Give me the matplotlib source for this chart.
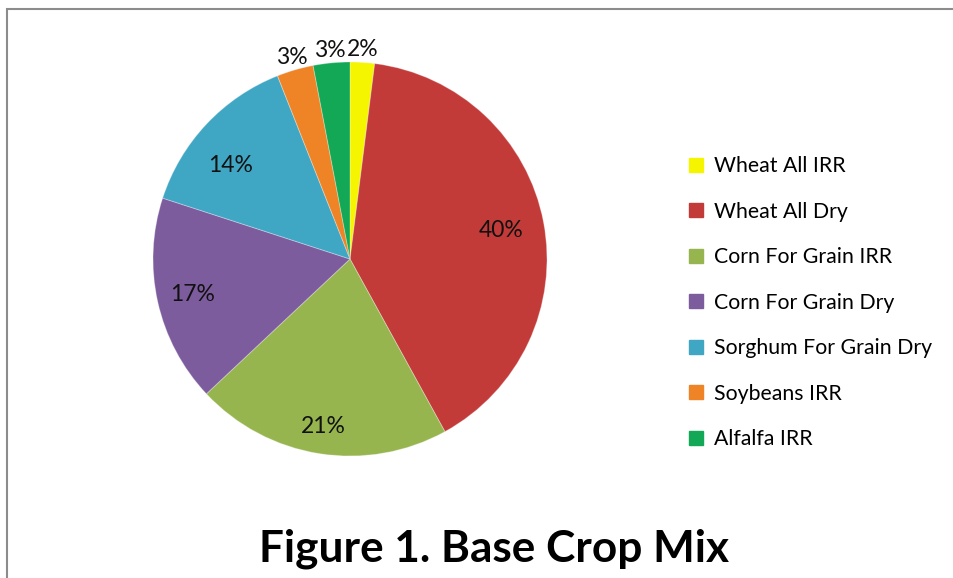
import matplotlib
matplotlib.use("Agg")
import matplotlib.pyplot as plt
import numpy as np
from matplotlib.patches import Rectangle

categories = ["Wheat All IRR", "Wheat All Dry", "Corn For Grain IRR", "Corn For Grain Dry",
              "Sorghum For Grain Dry", "Soybeans IRR", "Alfalfa IRR"]
shares = [2, 40, 21, 17, 14, 3, 3]
colors = ["#F5F500", "#C23B39", "#96B54F", "#7D5C9E", "#3FA6C4", "#EE8426", "#12A855"]
title = "Figure 1. Base Crop Mix"

plt.rcParams['font.family'] = ['Lato', 'DejaVu Sans']

W, H = 954, 578
fig = plt.figure(figsize=(W / 100, H / 100), dpi=100)

# frame border
fig.add_artist(Rectangle((7 / W, -0.1), 1.2, 1 - 9 / H + 0.1, transform=fig.transFigure,
                         fill=False, edgecolor="#8C8C8C", linewidth=1.5))

# pie axes: center (350, 259), radius 197 px
r = 197
cx, cy = 350, 259
ax = fig.add_axes([(cx - r) / W, 1 - (cy + r) / H, 2 * r / W, 2 * r / H])
wedges, _ = ax.pie(shares, colors=colors, startangle=90, counterclock=False,
                   wedgeprops=dict(edgecolor=(1, 1, 1, 0.3), linewidth=0.7))
ax.set_xlim(-1, 1)
ax.set_ylim(-1, 1)
ax.set_aspect("equal")
ax.axis("off")

dist = {40: 0.78, 21: 0.86, 17: 0.82, 14: 0.77}
for w, v in zip(wedges, shares):
    ang = np.deg2rad((w.theta1 + w.theta2) / 2)
    d = dist.get(v, 1.065)
    if v == 14:
        ang += np.deg2rad(5)
    ax.text(d * np.cos(ang), d * np.sin(ang), f"{v}%", ha="center", va="center",
            fontsize=16.5, color="#111111")

handles = [Rectangle((0, 0), 1, 1, facecolor=c, edgecolor=c) for c in colors]
leg = fig.legend(handles, categories, loc="upper left", bbox_to_anchor=(670 / W, 1 - 137 / H),
                 frameon=False, fontsize=15.3, handlelength=0.65, handleheight=0.65,
                 handletextpad=0.5, labelspacing=1.2)

fig.text(494 / W, 1 - 549 / H, title, ha="center", va="center", fontsize=31.8,
         fontweight="bold", color="#000000")

fig.savefig("out.png", dpi=100, facecolor="white")
